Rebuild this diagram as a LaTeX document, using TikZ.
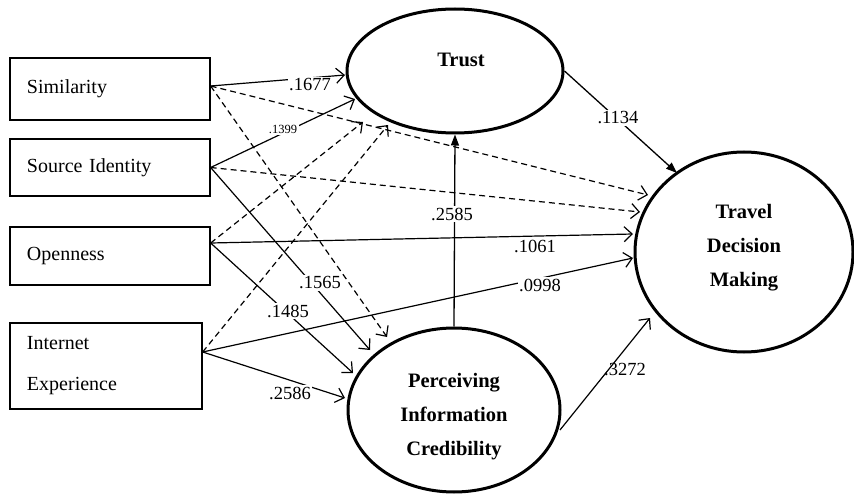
\documentclass[tikz,border=0pt]{standalone}
\usepackage{fontspec}
\setmainfont{Liberation Serif}
\usetikzlibrary{shapes.geometric,arrows.meta,calc}
\begin{document}
\begin{tikzpicture}[x=1pt,y=-1pt,
 box/.style={draw,line width=1.3pt,rectangle,inner sep=0pt,inner xsep=17pt,align=left,font=\fontsize{20}{41}\selectfont},
 lat/.style={draw,ellipse,line width=3pt,inner sep=0pt},
 bt/.style={font=\fontsize{20.5}{34}\selectfont\bfseries,align=center},
 sol/.style={line width=1.2pt,-{Straight Barb[length=8pt,width=15pt]}},
 dsh/.style={sol,dash pattern=on 6pt off 4pt},
 fil/.style={line width=1.3pt,-{Triangle[length=11pt,width=8pt]}},
 coef/.style={font=\fontsize{18.5}{22}\selectfont,inner sep=1.5pt},
 wcoef/.style={coef,fill=white},
]
\useasboundingbox (0,0) rectangle (854,500);

% observed variables
\node[box,text width=166pt,minimum height=62pt] (sim) at (110,89) {Similarity};
\node[box,text width=166pt,minimum height=57pt] (si) at (110,167.5) {Source Identity};
\node[box,text width=166pt,minimum height=58pt] (open) at (110,256) {Openness};
\node[box,text width=158pt,minimum height=86pt] (ie) at (106,366) {Internet\\Experience};

% latent variables
\node[lat,minimum width=216pt,minimum height=124pt,
  label={[bt,xshift=6pt,yshift=11pt]center:Trust}] (trust) at (455,71) {};
\node[lat,minimum width=218pt,minimum height=200pt,
  label={[bt,yshift=4pt]center:Travel\\Decision\\Making}] (tdm) at (744,252) {};
\node[lat,minimum width=212pt,minimum height=164pt,
  label={[bt,yshift=-7pt]center:Perceiving\\Information\\Credibility}] (pic) at (454,410) {};

% connector ends
\coordinate (simo) at ([yshift=3pt]sim.east);
\coordinate (sio) at (si.east);
\coordinate (openo) at ([yshift=13pt]open.east);
\coordinate (ieo) at ([yshift=14pt]ie.east);
\coordinate (pico) at (560,430);
\coordinate (t1) at (345,75);
\coordinate (t2) at (355,99);
\coordinate (t3) at (363,122);
\coordinate (t4) at (388,125);
\coordinate (d1) at (648,195);
\coordinate (d2) at (640,212);
\coordinate (d3) at (633,234);
\coordinate (d4) at (633,258);
\coordinate (d5) at (677,173);
\coordinate (d6) at (650,318);
\coordinate (p1) at (387,337);
\coordinate (p2) at (370,350);
\coordinate (p3) at (353,373);
\coordinate (p4) at (345,398);

% dashed paths
\draw[dsh] (simo) -- (d1);
\draw[dsh] (sio) -- (d2);
\draw[dsh] (simo) -- (p1);
\draw[dsh] (openo) -- (t3);
\draw[dsh] (ieo) -- (t4);

% solid paths
\draw[sol] (simo) -- (t1);
\draw[sol] (sio) -- (t2);
\draw[sol] (sio) -- (p2);
\draw[sol] (openo) -- (p3);
\draw[sol] (ieo) -- (p4);
\draw[sol] (openo) -- (d3);
\draw[sol] (ieo) -- (d4);
\draw[sol] (pico) -- (d6);
\draw[fil] (pic.north) -- (trust.south);
\draw[fil] (trust.east) -- (d5);

% coefficients
\node[wcoef] (c1) at (310,85) {.1677};
\node[wcoef,font=\fontsize{12.5}{14}\selectfont] (c2) at (283,129) {.1399};
\node[wcoef] (c3) at (320,283) {.1565};
\node[wcoef] (c4) at (288,311) {.1485};
\node[wcoef] (c5) at (290,393) {.2586};
\node[wcoef] (c6) at (452,214) {.2585};
\node[wcoef] (c7) at (618,118) {.1134};
\node[wcoef] (c8) at (535,246) {.1061};
\node[wcoef] (c9) at (540,285) {.0998};
\node[coef] (c10) at (625,370) {.3272};
\end{tikzpicture}
\end{document}
